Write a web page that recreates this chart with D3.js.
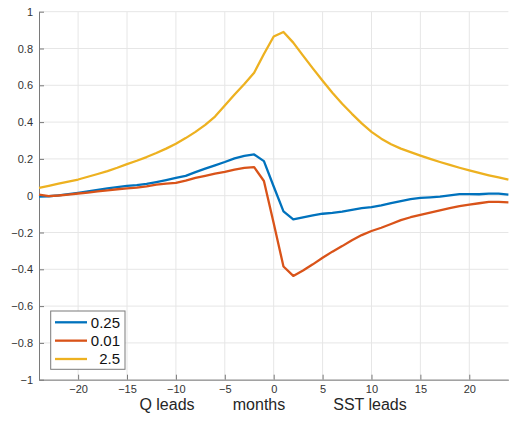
<!DOCTYPE html>
<html>
<head>
<meta charset="utf-8">
<script src="https://cdn.jsdelivr.net/npm/d3@7"></script>
<style>
  body { margin: 0; background: #fff; }
  #chart svg { display: block; font-family: "Liberation Sans", Arial, Helvetica, sans-serif; }
</style>
</head>
<body>
<div id="chart"></div>
<script>
// Lags in months (negative = Q leads, positive = SST leads)
const months = d3.range(-24, 25);

// Series values, one per month
const series025 = [
  -0.005, -0.003, 0.002, 0.008, 0.015, 0.023, 0.031, 0.040, 0.047, 0.053,
  0.057, 0.064, 0.074, 0.085, 0.097, 0.108, 0.128, 0.147, 0.165, 0.183,
  0.203, 0.217, 0.224, 0.188, 0.050, -0.085, -0.129, -0.118, -0.107, -0.098,
  -0.093, -0.086, -0.077, -0.068, -0.062, -0.052, -0.040, -0.029, -0.019, -0.012,
  -0.009, -0.005, 0.002, 0.009, 0.009, 0.008, 0.011, 0.011, 0.006
];
const series001 = [
  0.006, -0.002, 0.001, 0.006, 0.012, 0.017, 0.023, 0.029, 0.035, 0.040,
  0.044, 0.051, 0.060, 0.066, 0.070, 0.082, 0.097, 0.108, 0.120, 0.130,
  0.142, 0.151, 0.155, 0.080, -0.150, -0.385, -0.436, -0.407, -0.373, -0.337,
  -0.304, -0.274, -0.242, -0.214, -0.192, -0.174, -0.154, -0.133, -0.117, -0.104,
  -0.092, -0.080, -0.068, -0.057, -0.048, -0.041, -0.034, -0.034, -0.036
];
const series25 = [
  0.043, 0.054, 0.065, 0.076, 0.088, 0.103, 0.118, 0.134, 0.152, 0.172,
  0.190, 0.210, 0.232, 0.256, 0.282, 0.313, 0.347, 0.385, 0.430, 0.490,
  0.550, 0.607, 0.668, 0.770, 0.865, 0.890, 0.832, 0.761, 0.692, 0.625,
  0.560, 0.500, 0.445, 0.393, 0.347, 0.310, 0.280, 0.256, 0.237, 0.218,
  0.200, 0.183, 0.167, 0.152, 0.138, 0.124, 0.111, 0.099, 0.087
];

const seriesNames = ["0.25", "0.01", "2.5"];
const seriesColors = ["#0072BD", "#D95319", "#EDB120"];

const xTicks = [-20, -15, -10, -5, 0, 5, 10, 15, 20];
const yTicks = [-1, -0.8, -0.6, -0.4, -0.2, 0, 0.2, 0.4, 0.6, 0.8, 1];

function createChart() {
  const width = 515;
  const height = 421;
  const marginTop = 11.7;
  const marginRight = 6.6;
  const marginBottom = 41.3;
  const marginLeft = 39;

  const x = d3.scaleLinear()
      .domain([-24, 24])
      .range([marginLeft, width - marginRight]);

  const y = d3.scaleLinear()
      .domain([-1, 1])
      .range([height - marginBottom, marginTop]);

  const svg = d3.select("#chart")
      .append("svg")
      .attr("width", width)
      .attr("height", height)
      .attr("viewBox", [0, 0, width, height]);

  // Grid lines
  const grid = svg.append("g")
      .attr("stroke", "#e6e6e6")
      .attr("stroke-width", 1);

  grid.selectAll(".gx")
      .data(xTicks)
      .join("line")
      .attr("x1", d => x(d)).attr("x2", d => x(d))
      .attr("y1", y(-1)).attr("y2", y(1));

  grid.selectAll(".gy")
      .data(yTicks)
      .join("line")
      .attr("x1", x(-24)).attr("x2", x(24))
      .attr("y1", d => y(d)).attr("y2", d => y(d));

  // Axes (ticks point inward like MATLAB)
  const xAxis = d3.axisBottom(x)
      .tickValues(xTicks)
      .tickSize(-5)
      .tickPadding(5.5)
      .tickSizeOuter(0)
      .tickFormat(d3.format("d"));

  const yAxis = d3.axisLeft(y)
      .tickValues(yTicks)
      .tickSize(-5)
      .tickPadding(6)
      .tickSizeOuter(0)
      .tickFormat(d => d === 0 ? "0" : d3.format("")(+d.toFixed(1)));

  const gx = svg.append("g")
      .attr("transform", `translate(0,${y(-1)})`)
      .call(xAxis);

  const gy = svg.append("g")
      .attr("transform", `translate(${x(-24)},0)`)
      .call(yAxis);

  [gx, gy].forEach(g => {
    g.select(".domain").attr("stroke", "#7a7a7a");
    g.selectAll(".tick line").attr("stroke", "#7a7a7a");
    g.selectAll(".tick text")
        .attr("fill", "#333")
        .style("font-size", "11px")
        .style("font-family", "'Liberation Sans', Arial, sans-serif");
  });

  // Series lines
  const line = d3.line()
      .x((d, i) => x(months[i]))
      .y(d => y(d));

  const allSeries = [series025, series001, series25];

  svg.append("g")
      .attr("fill", "none")
      .attr("stroke-width", 2.3)
      .attr("stroke-linejoin", "round")
      .selectAll("path")
      .data(allSeries)
      .join("path")
      .attr("stroke", (d, i) => seriesColors[i])
      .attr("d", line);

  // X label
  const labels = [
    { text: "Q leads", cx: 167 },
    { text: "months", cx: 259 },
    { text: "SST leads", cx: 370 }
  ];
  svg.append("g")
      .selectAll("text")
      .data(labels)
      .join("text")
      .attr("x", d => d.cx)
      .attr("y", 409.5)
      .attr("text-anchor", "middle")
      .style("font-size", "16px")
      .attr("fill", "#262626")
      .text(d => d.text);

  // Legend
  const legend = svg.append("g");
  legend.append("rect")
      .attr("x", 50.7)
      .attr("y", 311)
      .attr("width", 74.3)
      .attr("height", 58.3)
      .attr("fill", "#fff")
      .attr("stroke", "#7a7a7a")
      .attr("stroke-width", 1);

  const rows = legend.selectAll(".row")
      .data(seriesNames)
      .join("g")
      .attr("transform", (d, i) => `translate(0,${322.3 + i * 18.35})`);

  rows.append("line")
      .attr("x1", 55).attr("x2", 87)
      .attr("stroke", (d, i) => seriesColors[i])
      .attr("stroke-width", 2.3);

  rows.append("text")
      .attr("x", 120)
      .attr("dy", "0.36em")
      .attr("text-anchor", "end")
      .style("font-size", "15px")
      .attr("fill", "#111")
      .text(d => d);
}

document.addEventListener("DOMContentLoaded", createChart);
</script>
</body>
</html>
